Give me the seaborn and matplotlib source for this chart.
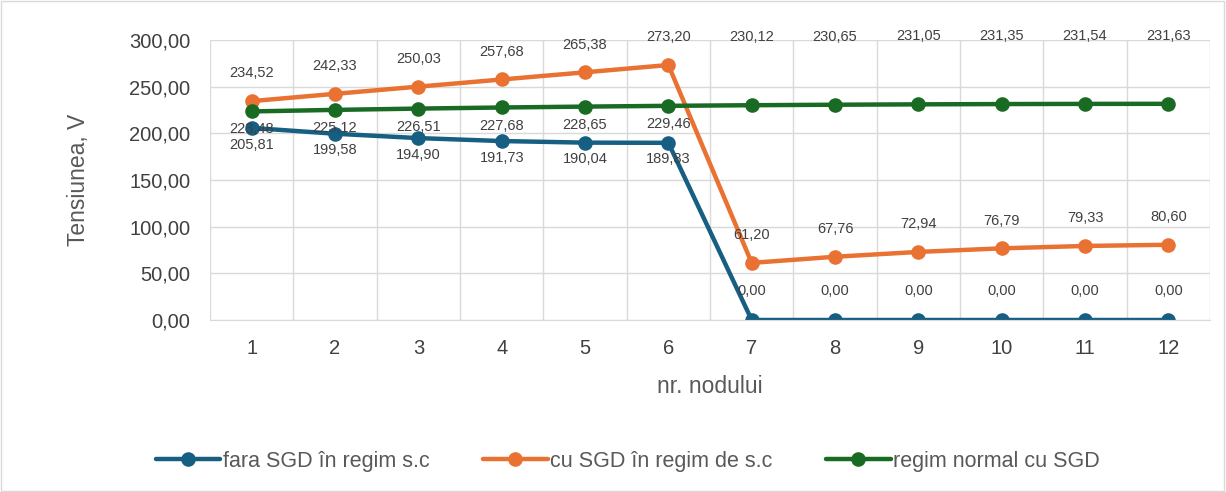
import numpy as np
import pandas as pd
import matplotlib
matplotlib.use("Agg")
import matplotlib.pyplot as plt
import seaborn as sns

# date
noduri = list(range(1, 13))
fara_sgd_sc = [205.81, 199.58, 194.90, 191.73, 190.04, 189.83, 0.00, 0.00, 0.00, 0.00, 0.00, 0.00]
cu_sgd_sc = [234.52, 242.33, 250.03, 257.68, 265.38, 273.20, 61.20, 67.76, 72.94, 76.79, 79.33, 80.60]
normal_sgd = [223.48, 225.12, 226.51, 227.68, 228.65, 229.46, 230.12, 230.65, 231.05, 231.35, 231.54, 231.63]

serii = ["fara SGD în regim s.c", "cu SGD în regim de s.c", "regim normal cu SGD"]
culori = ["#165f82", "#e97132", "#196b24"]

df = pd.DataFrame({
    "nod": noduri * 3,
    "valoare": fara_sgd_sc + cu_sgd_sc + normal_sgd,
    "serie": np.repeat(serii, len(noduri)),
})

sns.set_style("white")
plt.rcParams["font.family"] = ["Liberation Sans", "DejaVu Sans"]

fig = plt.figure(figsize=(12.26, 4.92), dpi=100)
ax = fig.add_axes([0.1713, 0.3496, 0.8157, 0.5691])

sns.lineplot(data=df, x="nod", y="valoare", hue="serie", hue_order=serii,
             palette=culori, marker="o", markersize=10.5, markeredgewidth=0,
             linewidth=3.2, ax=ax, legend=True)

ax.set_xlim(0.5, 12.5)
ax.set_ylim(0, 300)
ax.set_yticks(np.arange(0, 301, 50))
ax.set_yticklabels([f"{v:.2f}".replace(".", ",") for v in np.arange(0, 301, 50)])
ax.set_xticks(noduri)
ax.set_xticks(np.arange(0.5, 13, 1), minor=True)
ax.tick_params(axis="both", which="both", length=0, labelsize=14.5, colors="#404040")
ax.tick_params(axis="x", pad=14)
ax.tick_params(axis="y", pad=14)
ax.grid(True, axis="y", color="#d9d9d9", linewidth=1)
ax.grid(True, axis="x", which="minor", color="#d9d9d9", linewidth=1)
ax.grid(False, axis="x", which="major")
for s in ["top", "right", "left"]:
    ax.spines[s].set_visible(False)
ax.spines["bottom"].set_color("#d9d9d9")
ax.set_axisbelow(True)

ax.set_xlabel("nr. nodului", fontsize=16.5, color="#595959", labelpad=12)
ax.set_ylabel("Tensiunea, V", fontsize=16.5, color="#595959", labelpad=28)

def fmt(v):
    return f"{v:.2f}".replace(".", ",")

txt = dict(ha="center", va="center", fontsize=10.5, color="#404040",
           textcoords="offset points")
for i, n in enumerate(noduri):
    v = fara_sgd_sc[i]
    ax.annotate(fmt(v), (n, v), xytext=(0, -12 if v > 0 else 21), **txt)
    v = cu_sgd_sc[i]
    ax.annotate(fmt(v), (n, v), xytext=(0, 20), **txt)
    v = normal_sgd[i]
    ax.annotate(fmt(v), (n, v), xytext=(0, -13 if i < 6 else 49), **txt)

handles, labels = ax.get_legend_handles_labels()
ax.get_legend().remove()
fig.legend(handles, labels, loc="center", bbox_to_anchor=(0.512, 0.062), ncol=3,
           frameon=False, fontsize=15.5, handlelength=3.0, handletextpad=0.1,
           columnspacing=2.5, labelcolor="#595959")

fig.patches.append(plt.Rectangle((0.001, 0.002), 0.997, 0.996, transform=fig.transFigure,
                                 fill=False, edgecolor="#d9d9d9", linewidth=1))

fig.savefig("out.png", dpi=100)
